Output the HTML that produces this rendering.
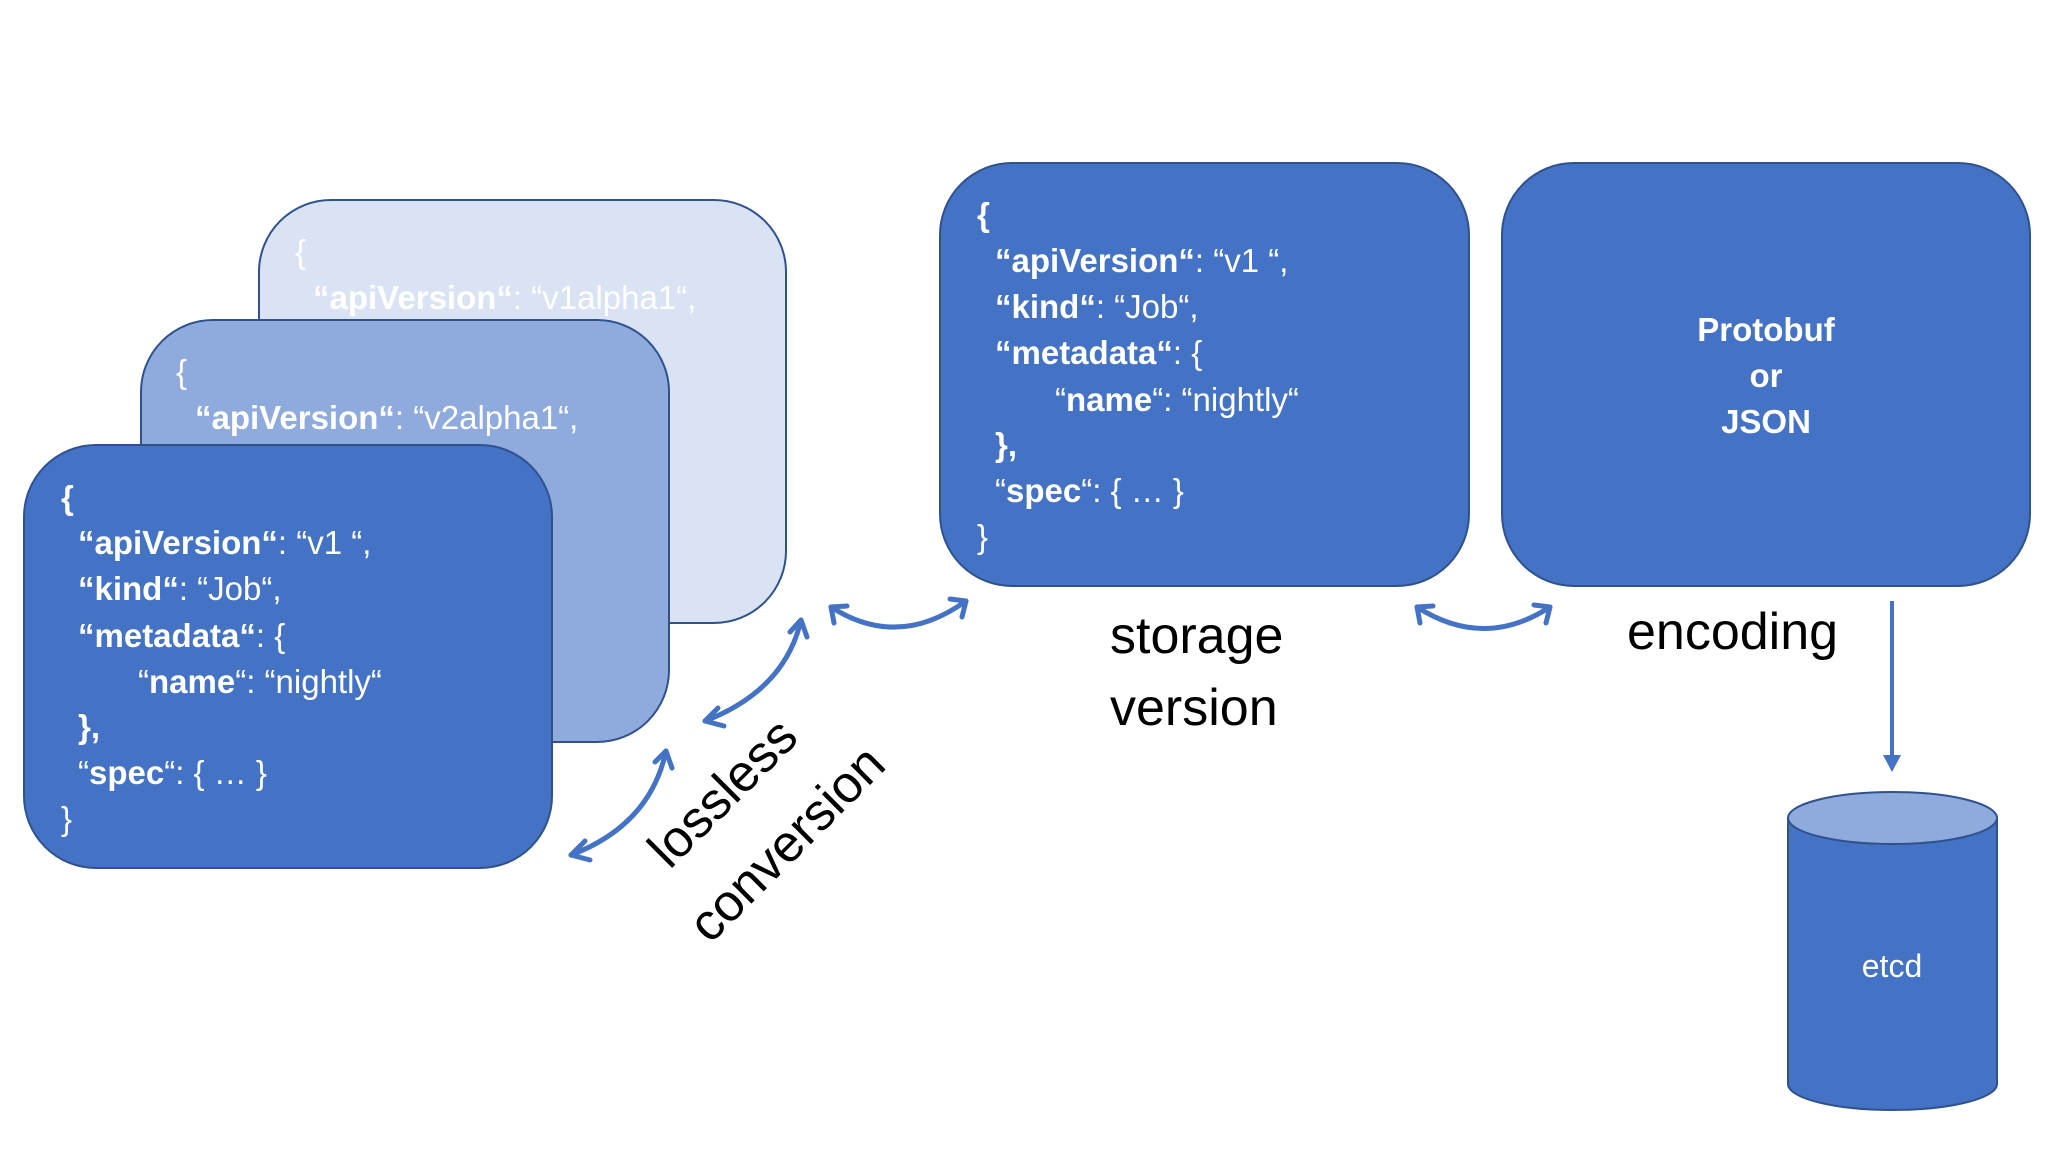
<!DOCTYPE html>
<html><head><meta charset="utf-8"><style>
html,body{margin:0;padding:0;background:#fff;}
svg{display:block;}
text{font-family:"Liberation Sans Narrow","Liberation Sans",sans-serif;}
.c{fill:#fff;font-size:33px;}
.b{font-weight:bold;}
.lab{font-family:"Liberation Sans",sans-serif;font-size:52px;fill:#000;}
</style></head><body>
<svg width="2048" height="1152" viewBox="0 0 2048 1152" xmlns="http://www.w3.org/2000/svg">
<defs>
<marker id="ah" markerWidth="10" markerHeight="10" refX="5" refY="5" orient="auto-start-reverse" markerUnits="userSpaceOnUse" viewBox="0 0 10 10">
</marker>
</defs>
<!-- back box -->
<rect x="259" y="200" width="527" height="423" rx="72" fill="#DAE3F3" stroke="#2F528F" stroke-width="2"/>
<g class="c" fill="#fff">
<text x="295" y="263" class="c">{</text>
<text x="313" y="309" class="c"><tspan class="b">“apiVersion“</tspan>: “v1alpha1“,</text>
</g>
<!-- mid box -->
<rect x="141" y="320" width="528" height="422" rx="72" fill="#8FAADC" stroke="#2F528F" stroke-width="2"/>
<text x="176" y="383" class="c">{</text>
<text x="195" y="429" class="c"><tspan class="b">“apiVersion“</tspan>: “v2alpha1“,</text>
<!-- front box -->
<rect x="24" y="445" width="528" height="423" rx="72" fill="#4472C4" stroke="#2F528F" stroke-width="2"/>
<text x="61" y="509" class="c b">{</text>
<text x="78" y="554" class="c"><tspan class="b">“apiVersion“</tspan>: “v1 “,</text>
<text x="78" y="600" class="c"><tspan class="b">“kind“</tspan>: “Job“,</text>
<text x="78" y="647" class="c"><tspan class="b">“metadata“</tspan>: {</text>
<text x="138" y="693" class="c">“<tspan class="b">name</tspan>“: “nightly“</text>
<text x="78" y="738" class="c b">},</text>
<text x="78" y="784" class="c">“<tspan class="b">spec</tspan>“: {  … }</text>
<text x="61" y="830" class="c">}</text>
<!-- storage box -->
<rect x="940" y="163" width="529" height="423" rx="72" fill="#4472C4" stroke="#2F528F" stroke-width="2"/>
<text x="977" y="226" class="c b">{</text>
<text x="995" y="272" class="c"><tspan class="b">“apiVersion“</tspan>: “v1 “,</text>
<text x="995" y="318" class="c"><tspan class="b">“kind“</tspan>: “Job“,</text>
<text x="995" y="364" class="c"><tspan class="b">“metadata“</tspan>: {</text>
<text x="1055" y="411" class="c">“<tspan class="b">name</tspan>“: “nightly“</text>
<text x="995" y="456" class="c b">},</text>
<text x="995" y="502" class="c">“<tspan class="b">spec</tspan>“: {  … }</text>
<text x="977" y="548" class="c">}</text>
<!-- protobuf box -->
<rect x="1502" y="163" width="528" height="423" rx="72" fill="#4472C4" stroke="#2F528F" stroke-width="2"/>
<g class="c b" text-anchor="middle">
<text x="1766" y="341" class="c b" text-anchor="middle">Protobuf</text>
<text x="1766" y="387" class="c b" text-anchor="middle">or</text>
<text x="1766" y="433" class="c b" text-anchor="middle">JSON</text>
</g>
<!-- arrow down -->
<line x1="1892" y1="601" x2="1892" y2="760" stroke="#4472C4" stroke-width="4"/>
<path d="M1883,755 L1892,772 L1901,755 Z" fill="#4472C4"/>
<!-- cylinder -->
<path d="M1788,818 L1788,1084 A104.5,26 0 0 0 1997,1084 L1997,818 Z" fill="#4472C4" stroke="#2F528F" stroke-width="2"/>
<ellipse cx="1892.5" cy="818" rx="104.5" ry="26" fill="#8FAADC" stroke="#2F528F" stroke-width="2"/>
<text x="1892" y="977" class="c" text-anchor="middle" style="font-family:'Liberation Sans',sans-serif;font-size:32px">etcd</text>
<!-- curved double arrows -->
<g fill="none" stroke="#4472C4" stroke-width="5" stroke-linecap="round" stroke-linejoin="round">
<path d="M571,855 Q650,825 666,751"/>
<path d="M585,841 L571,855 L590,860"/>
<path d="M655,762 L666,751 L672,768"/>
<path d="M705,721 Q785,690 801,620"/>
<path d="M718,708 L705,721 L724,726"/>
<path d="M790,632 L801,620 L807,637"/>
<path d="M831,607 Q898,650 966,601"/>
<path d="M834,623 L831,607 L847,606"/>
<path d="M950,599 L966,601 L962,617"/>
<path d="M1417,607 Q1484,650 1550,607"/>
<path d="M1420,623 L1417,607 L1433,606"/>
<path d="M1534,605 L1550,607 L1546,623"/>
</g>
<!-- labels -->
<text x="1110" y="653" class="lab">storage</text>
<text x="1110" y="725" class="lab">version</text>
<text x="1627" y="649" class="lab">encoding</text>
<text class="lab" text-anchor="middle" transform="translate(735,805) rotate(-45)">lossless</text>
<text class="lab" text-anchor="middle" transform="translate(799,856) rotate(-45)">conversion</text>
</svg>
</body></html>
